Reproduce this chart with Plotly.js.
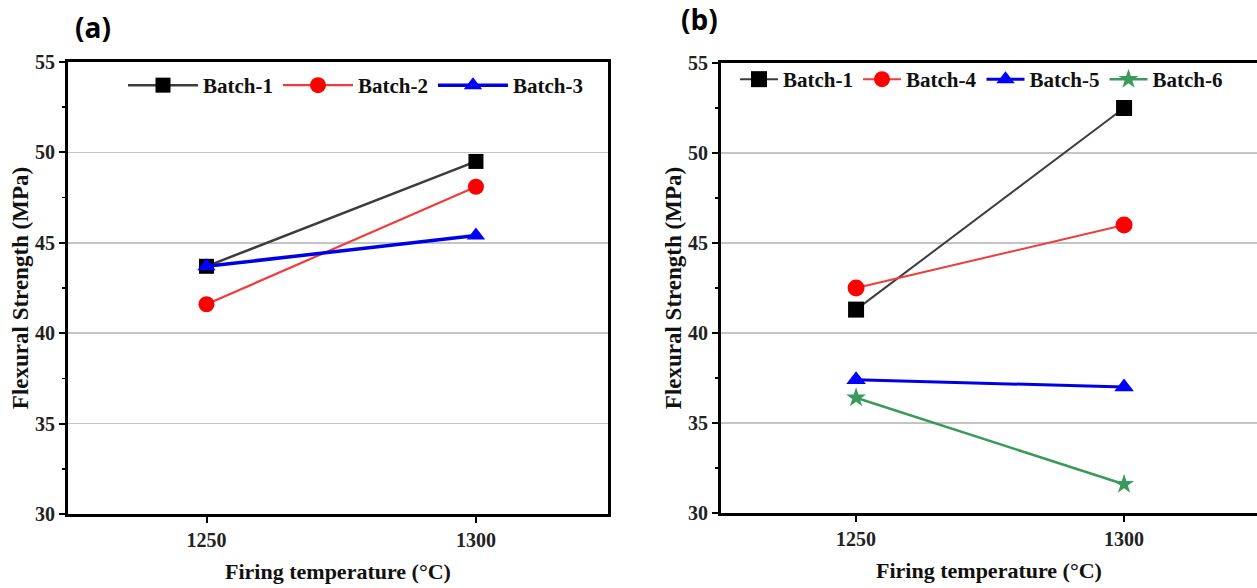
<!DOCTYPE html>
<html>
<head>
<meta charset="utf-8">
<script src="https://cdn.plot.ly/plotly-3.0.1.min.js"></script>
<style>
  html, body { margin: 0; padding: 0; background: #fff; }
  #chart { width: 1257px; height: 588px; }
</style>
</head>
<body>
<div id="chart"></div>
<script>
// Firing temperatures (°C)
const temperatures = [1250, 1300];

// Flexural strength (MPa), panel (a)
const batch1A = [43.7, 49.5];
const batch2A = [41.6, 48.1];
const batch3A = [43.7, 45.4];

// Flexural strength (MPa), panel (b)
const batch1B = [41.3, 52.5];
const batch4B = [42.5, 46.0];
const batch5B = [37.4, 37.0];
const batch6B = [36.4, 31.6];

const yTicks = [30, 35, 40, 45, 50, 55];
const xTicks = [1250, 1300];

const panelLabels = ['(a)', '(b)'];
const xTitle = 'Firing temperature (°C)';
const yTitle = 'Flexural Strength (MPa)';

const serif = 'Liberation Serif, Times New Roman, serif';
const W = 1257, H = 588;

function line(name, y, xa, ya, legend, color, lineColor, width, symbol, size) {
  return {
    type: 'scatter', mode: 'lines+markers', name: name,
    x: temperatures, y: y, xaxis: xa, yaxis: ya, legend: legend,
    line: { color: lineColor, width: width },
    marker: { color: color, symbol: symbol, size: size, line: { width: 0 } },
    cliponaxis: false
  };
}

const traces = [
  line('Batch-1', batch1A, 'x', 'y', 'legend', '#000000', '#3c3c3c', 2.5, 'square', 15),
  line('Batch-2', batch2A, 'x', 'y', 'legend', '#ff0000', '#f03c3c', 2.2, 'circle', 16),
  line('Batch-3', batch3A, 'x', 'y', 'legend', '#0000ff', '#0000e6', 3.5, 'triangle-up', 16),
  line('Batch-1', batch1B, 'x2', 'y2', 'legend2', '#000000', '#3c3c3c', 2, 'square', 16),
  line('Batch-4', batch4B, 'x2', 'y2', 'legend2', '#ff0000', '#f03c3c', 2, 'circle', 17),
  line('Batch-5', batch5B, 'x2', 'y2', 'legend2', '#0000ff', '#0000e6', 3, 'triangle-up', 17),
  line('Batch-6', batch6B, 'x2', 'y2', 'legend2', '#3a9a5c', '#3a9a5c', 2.5, 'star', 15)
];

function xAxis(domain, range) {
  return {
    domain: domain, range: range, tickvals: xTicks, ticktext: xTicks.map(String),
    ticks: 'outside', ticklen: 6, tickwidth: 2, tickcolor: '#000',
    showline: true, linecolor: '#000', linewidth: 3, mirror: true,
    showgrid: false, zeroline: false,
    tickfont: { family: serif, size: 20, color: '#222', weight: 'bold' },
    title: { text: xTitle, font: { family: serif, size: 22, color: '#111', weight: 'bold' }, standoff: 14 },
    fixedrange: true
  };
}

function yAxis(domain, mirror) {
  return {
    domain: domain, range: [30, 55], tickvals: yTicks, ticktext: yTicks.map(String),
    ticks: 'outside', ticklen: 6, tickwidth: 2, tickcolor: '#000',
    minor: { dtick: 2.5, tick0: 30, ticks: 'outside', ticklen: 3, tickwidth: 1.5, tickcolor: '#000', showgrid: false },
    showline: true, linecolor: '#000', linewidth: 3, mirror: mirror,
    showgrid: true, gridcolor: '#c4c4c4', gridwidth: 1.5, zeroline: false,
    tickfont: { family: serif, size: 20, color: '#222', weight: 'bold' },
    title: { text: yTitle, font: { family: serif, size: 23, color: '#111', weight: 'bold' }, standoff: 0 },
    fixedrange: true
  };
}

const layout = {
  width: W, height: H,
  margin: { l: 0, r: 0, t: 0, b: 0 },
  paper_bgcolor: '#fff', plot_bgcolor: '#fff',
  showlegend: true,
  xaxis: xAxis([68 / W, 608 / W], [1224.3, 1324.5]),
  yaxis: Object.assign(yAxis([74 / H, 526 / H], true), { anchor: 'x' }),
  xaxis2: Object.assign(xAxis([721 / W, 1], [1224.8, 1324.8]), { anchor: 'y2' }),
  yaxis2: Object.assign(yAxis([75 / H, 525 / H], false), { anchor: 'x2' }),
  legend: {
    orientation: 'h', x: 123 / W, y: 1 - 65 / H, xanchor: 'left', yanchor: 'top',
    bgcolor: 'rgba(0,0,0,0)', itemwidth: 70, tracegroupgap: 0,
    font: { family: serif, size: 21, color: '#111', weight: 'bold' },
    itemclick: false, itemdoubleclick: false
  },
  legend2: {
    orientation: 'h', x: 735 / W, y: 1 - 59 / H, xanchor: 'left', yanchor: 'top',
    bgcolor: 'rgba(0,0,0,0)', itemwidth: 38,
    font: { family: serif, size: 21, color: '#111', weight: 'bold' },
    itemclick: false, itemdoubleclick: false
  },
  annotations: [
    { text: panelLabels[0], xref: 'paper', yref: 'paper', x: 93 / W, y: 1 - 27 / H,
      xanchor: 'center', yanchor: 'middle', showarrow: false,
      font: { family: 'Open Sans, sans-serif', size: 28, color: '#000', weight: 'bold' } },
    { text: panelLabels[1], xref: 'paper', yref: 'paper', x: 699 / W, y: 1 - 19 / H,
      xanchor: 'center', yanchor: 'middle', showarrow: false,
      font: { family: 'Open Sans, sans-serif', size: 28, color: '#000', weight: 'bold' } }
  ]
};

Plotly.newPlot('chart', traces, layout, { displayModeBar: false, staticPlot: true });
</script>
</body>
</html>
